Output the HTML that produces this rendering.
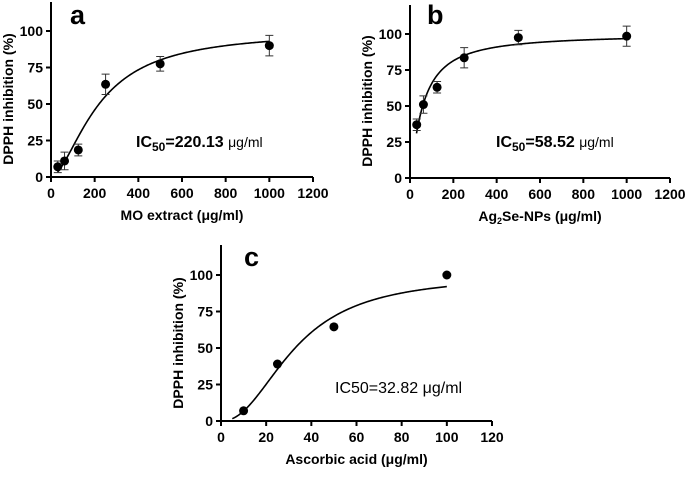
<!DOCTYPE html>
<html><head><meta charset="utf-8"><style>
body{margin:0;background:#fff;}
svg{font-family:"Liberation Sans",Arial,sans-serif;font-weight:bold;}
</style></head><body>
<svg id="s" width="685" height="473" viewBox="0 0 685 473"></svg>
<script>
const aX=[31,62,125,250,500,1000];
const aY=[7,11,18.5,63.5,77.5,90];
const aErr=[4,6,4,7,5,7];
const bX=[31,62,125,250,500,1000];
const bY=[37,51,63,83.5,97.5,98.5];
const bErr=[4,6,4,7,5,7];
const cX=[10,25,50,100];
const cY=[7,39,64.5,100];
const cErr=[0,0,0,0];
const yTicks=[0,25,50,75,100];
const abXTicks=[0,200,400,600,800,1000,1200];
const cXTicks=[0,20,40,60,80,100,120];
const fitA={ic50:220.13,top:100,h:1.7,from:30,to:1000};
const fitB={ic50:58.52,top:100,h:1.2,from:30,to:1000};
const fitC={ic50:32.82,top:100,h:2.2,from:5,to:100};
const svg=document.getElementById('s');
const NS='http://www.w3.org/2000/svg';
function mk(t,at,name,parent){const e=document.createElementNS(NS,t);for(const k in at)e.setAttribute(k,at[k]);


(parent||svg).appendChild(e);return e;}
function panel(p){
 const g=mk('g',{},p.name);
 const sx=v=>p.x0+(v/p.xmax)*(p.x1-p.x0);
 const sy=v=>p.y0-(v/100)*(p.y0-p.y100);
 mk('line',{x1:p.x0,y1:p.top,x2:p.x0,y2:p.y0+4,stroke:'#000','stroke-width':2},'y-axis',g);
 mk('line',{x1:p.x0-4,y1:p.y0,x2:p.x1,y2:p.y0,stroke:'#000','stroke-width':2},'x-axis',g);
 p.yt.forEach(v=>{mk('line',{x1:p.x0-5,y1:sy(v),x2:p.x0,y2:sy(v),stroke:'#000','stroke-width':2},'y-tick',g);
  const t=mk('text',{x:p.x0-8,y:sy(v)+5,'text-anchor':'end','font-size':14},'y-tick-label',g);t.textContent=v;});
 p.xt.forEach(v=>{mk('line',{x1:sx(v),y1:p.y0,x2:sx(v),y2:p.y0+5,stroke:'#000','stroke-width':2},'x-tick',g);
  const t=mk('text',{x:sx(v),y:p.y0+21,'text-anchor':'middle','font-size':14},'x-tick-label',g);t.textContent=v;});
 const yt=mk('text',{x:0,y:0,'text-anchor':'middle','font-size':14,transform:`translate(${p.x0-38},${(p.y0+p.y100)/2-5}) rotate(-90)`},'y-axis-title',g);yt.textContent='DPPH inhibition (%)';
 const xt=mk('text',{x:(p.x0+p.x1)/2,y:p.y0+43,'text-anchor':'middle','font-size':14},'x-axis-title',g);xt.innerHTML=p.xtitle;
 const lt=mk('text',{x:p.lx,y:p.ly,'font-size':27},'panel-letter',g);lt.textContent=p.letter;
 const ic=mk('text',{x:p.icx,y:p.icy,'font-size':16},'ic50-label',g);ic.innerHTML=p.ic;
 let d='';const f=p.fit;
 for(let i=0;i<=200;i++){const x=f.from+(f.to-f.from)*i/200;const y=f.top/(1+Math.pow(f.ic50/x,f.h));d+=(i?'L':'M')+sx(x).toFixed(2)+','+sy(y).toFixed(2);}
 mk('path',{d:d,fill:'none',stroke:'#000','stroke-width':1.6},'fit-curve',g);
 p.X.forEach((x,i)=>{const cx=sx(x),cy=sy(p.Y[i]),e=p.E[i];
  if(e>0){const t=sy(p.Y[i]+e),b=sy(p.Y[i]-e);
   mk('path',{d:`M${cx},${t}V${b}M${cx-4},${t}H${cx+4}M${cx-4},${b}H${cx+4}`,stroke:'#333','stroke-width':1},'error-bar',g);}
  mk('circle',{cx:cx,cy:cy,r:4.5,fill:'#000'},'data-point',g);});
}
panel({name:'panel-a',x0:51,x1:313,xmax:1200,y0:177,y100:31,top:2,yt:yTicks,xt:abXTicks,X:aX,Y:aY,E:aErr,fit:fitA,letter:'a',lx:70,ly:24,
 xtitle:'MO extract (μg/ml)',icx:136,icy:147,ic:'IC<tspan font-size="12" dy="4">50</tspan><tspan dy="-4">=220.13 </tspan><tspan font-size="14" font-weight="normal">μg/ml</tspan>'});
panel({name:'panel-b',x0:410,x1:670,xmax:1200,y0:178,y100:34,top:5,yt:yTicks,xt:abXTicks,X:bX,Y:bY,E:bErr,fit:fitB,letter:'b',lx:427,ly:24,
 xtitle:'Ag<tspan font-size="9" dy="3">2</tspan><tspan dy="-3">Se-NPs (μg/ml)</tspan>',icx:496,icy:147,ic:'IC<tspan font-size="12" dy="4">50</tspan><tspan dy="-4">=58.52 </tspan><tspan font-size="14" font-weight="normal">μg/ml</tspan>'});
panel({name:'panel-c',x0:221,x1:492,xmax:120,y0:421,y100:275,top:245,yt:yTicks,xt:cXTicks,X:cX,Y:cY,E:cErr,fit:fitC,letter:'c',lx:244,ly:266,
 xtitle:'Ascorbic acid (μg/ml)',icx:335,icy:393,ic:'<tspan font-weight="normal">IC50=32.82 μg/ml</tspan>'});
</script>
</body></html>
